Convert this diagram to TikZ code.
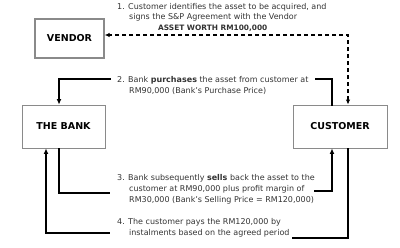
\documentclass[tikz,border=0pt]{standalone}
\usepackage{fontspec}
\setmainfont{DejaVu Sans}
\usetikzlibrary{arrows.meta}
\definecolor{txt}{HTML}{333333}
\definecolor{edge}{HTML}{8A8A8A}

\begin{document}
\begin{tikzpicture}[x=1pt,y=-1pt,
  party/.style={draw=edge, line width=0.9pt, minimum width=#1, minimum height=43pt, inner sep=0pt,
    font=\fontsize{9.5}{10}\selectfont\bfseries},
  note/.style={anchor=north west, inner sep=0pt, align=left, text=txt,
    font=\fontsize{8}{11.3}\selectfont},
  flow/.style={line width=1.8pt, line cap=rect},
  arr/.style={flow, -{Latex[length=5.5pt,width=5pt]}},
  dash arr/.style={line width=1.1pt, dashed, dash pattern=on 4pt off 3pt, {Latex[length=5pt,width=4.5pt]}-{Latex[length=5pt,width=4.5pt]}}]
\useasboundingbox (0,0) rectangle (400,247);
\node[party=69pt, minimum height=39pt, line width=1.3pt] (vendor) at (69.5,38.5) {VENDOR};
\node[party=83pt] (bank) at (63.5,126.5) {THE BANK};
\node[party=94pt] (cust) at (340,126.5) {CUSTOMER};
% steps of the deal
\node[note, font=\fontsize{8}{10.5}\selectfont] (s1) at (117,3) {1. Customer identifies the asset to be acquired, and\\
  \hspace*{12pt}signs the S\&P Agreement with the Vendor\\
  \hspace*{41pt}{\fontsize{7.4}{10.5}\selectfont\bfseries ASSET WORTH RM100,000}};
\node[note] (s2) at (117,76) {2. Bank \textbf{purchases} the asset from customer at\\
  \hspace*{12pt}RM90,000 (Bank's Purchase Price)};
\node[note] (s3) at (117,174) {3. Bank subsequently \textbf{sells} back the asset to the\\
  \hspace*{12pt}customer at RM90,000 plus profit margin of\\
  \hspace*{12pt}RM30,000 (Bank's Selling Price = RM120,000)};
\node[note] (s4) at (117,218) {4. The customer pays the RM120,000 by\\
  \hspace*{12pt}instalments based on the agreed period};
% free ends beside the texts
\coordinate (a2) at (110,79); \coordinate (b2) at (316,79);
\coordinate (a3) at (109,193); \coordinate (b3) at (315,191);
\coordinate (a4) at (109,233); \coordinate (b4) at (293,238);
\draw[dash arr] ([xshift=8pt]cust.north) |- ([yshift=3.5pt]vendor.east);
\draw[arr] (a2) -| ([xshift=-4.5pt]bank.north);
\draw[flow, line width=2.6pt] (b2) -| ([xshift=-8pt]cust.north);
\draw[flow] ([xshift=-4.5pt]bank.south) |- (a3);
\draw[arr] (b3) -| ([xshift=-8pt]cust.south);
\draw[flow] ([xshift=8pt]cust.south) |- (b4);
\draw[arr] (a4) -| ([xshift=-17.5pt]bank.south);
\end{tikzpicture}
\end{document}
